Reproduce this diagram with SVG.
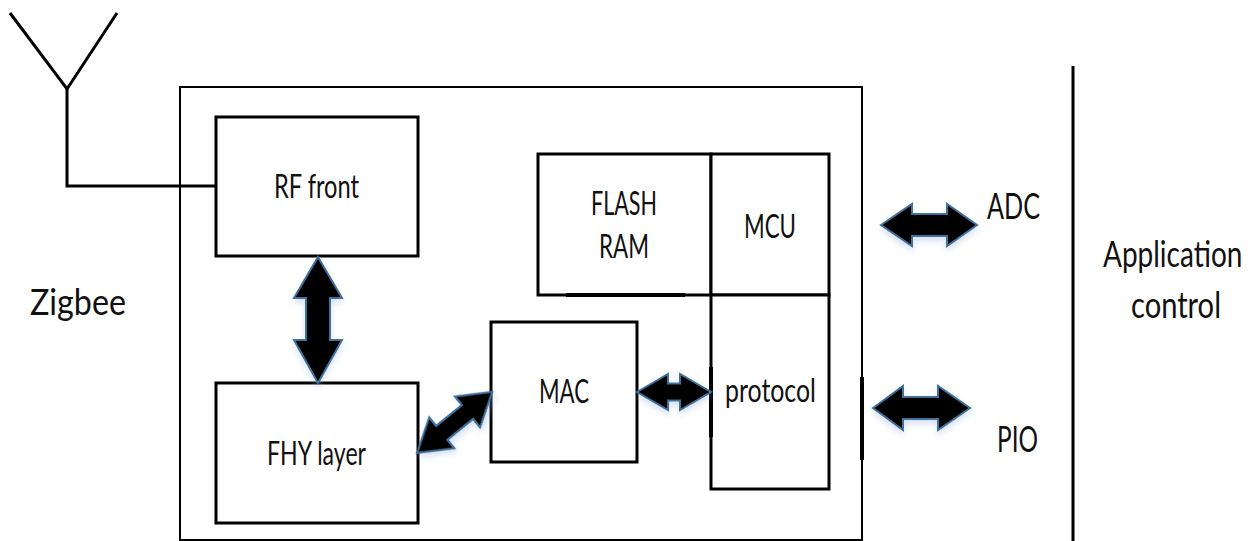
<svg xmlns="http://www.w3.org/2000/svg" width="1260" height="541" viewBox="0 0 1260 541">
<defs>
<style>
.box{fill:#fff;stroke:#000;stroke-width:3}
.ln{fill:none;stroke:#000;stroke-width:3}
.thin{fill:none;stroke:#000;stroke-width:2}
.arr{fill:#000;stroke:#41719c;stroke-width:2;stroke-linejoin:miter;filter:url(#sh)}
.t{font-family:Lato,"Liberation Sans",sans-serif;font-size:33px;fill:#111}
.tb{font-family:Lato,"Liberation Sans",sans-serif;font-size:37px;fill:#111}
.ts{font-family:Lato,"Liberation Sans",sans-serif;font-size:28px;fill:#111}
</style>
<filter id="sh" x="-20%" y="-20%" width="140%" height="160%">
<feDropShadow dx="0" dy="4" stdDeviation="3" flood-color="#8fa9d6" flood-opacity="0.35"/>
</filter>
</defs>
<rect width="1260" height="541" fill="#fff"/>
<g id="antenna">
<polyline class="ln" points="10,13 67,89 117,13"/>
<polyline class="ln" points="67,89 67,186 217,186"/>
</g>
<g id="zigbee-module">
<rect class="thin" x="180" y="87" width="682" height="453"/>
<line x1="862" y1="377" x2="862" y2="460" stroke="#000" stroke-width="4"/>
</g>
<g id="rf-front">
<rect class="box" x="216" y="117" width="202" height="139"/>
<text class="t" x="274" y="198" textLength="85" lengthAdjust="spacingAndGlyphs">RF front</text>
</g>
<g id="fhy-layer">
<rect class="box" x="216" y="383" width="202" height="140"/>
<text class="t" x="267" y="465" textLength="99" lengthAdjust="spacingAndGlyphs">FHY layer</text>
</g>
<g id="mac">
<rect class="box" x="491" y="322" width="146" height="140"/>
<text class="t" x="539" y="403" textLength="50" lengthAdjust="spacingAndGlyphs">MAC</text>
</g>
<g id="flash-ram">
<rect class="box" x="538" y="154" width="173" height="141"/>
<line x1="566" y1="295" x2="685" y2="295" stroke="#000" stroke-width="4"/>
<text class="t" x="591" y="215" textLength="66" lengthAdjust="spacingAndGlyphs">FLASH</text>
<text class="t" x="599" y="258" textLength="50" lengthAdjust="spacingAndGlyphs">RAM</text>
</g>
<g id="mcu">
<rect class="box" x="711" y="154" width="118" height="141"/>
<text class="t" x="744" y="238" textLength="52" lengthAdjust="spacingAndGlyphs">MCU</text>
</g>
<g id="protocol">
<rect class="box" x="711" y="295" width="118" height="194"/>
<line x1="711" y1="367" x2="711" y2="437" stroke="#000" stroke-width="4"/>
<text class="t" x="725" y="402" textLength="91" lengthAdjust="spacingAndGlyphs">protocol</text>
</g>
<g id="application">
<line x1="1073" y1="66" x2="1073" y2="541" stroke="#000" stroke-width="3"/>
<text class="ts" transform="translate(1103,267) scale(1,1.32)" x="0" y="0">Application</text>
<text class="tb" x="1131" y="318" textLength="90" lengthAdjust="spacingAndGlyphs">control</text>
</g>
<g id="labels">
<text class="tb" x="30" y="315" textLength="96" lengthAdjust="spacingAndGlyphs">Zigbee</text>
<text class="tb" x="987" y="219" textLength="53" lengthAdjust="spacingAndGlyphs">ADC</text>
<text class="tb" x="997" y="452" textLength="41" lengthAdjust="spacingAndGlyphs">PIO</text>
</g>
<g id="connectors">
<polygon class="arr" points="318,257 342,298 330,298 330,340 342,340 318,383 294,340 306,340 306,298 294,298"/>
<polygon class="arr" transform="translate(417,453) rotate(-39.1)" points="0,0 32,-20 32,-9 65,-9 65,-20 97,0 65,20 65,9 32,9 32,20"/>
<polygon class="arr" points="637,392 668,374 668,383.5 680,383.5 680,374 711,392 680,410 680,400.5 668,400.5 668,410"/>
<polygon class="arr" points="881,225 912,204 912,214 947,214 947,204 977,225 947,246 947,236 912,236 912,246"/>
<polygon class="arr" points="873,408 903,386 903,397 938,397 938,386 970,408 938,430 938,419 903,419 903,430"/>
</g>
</svg>
